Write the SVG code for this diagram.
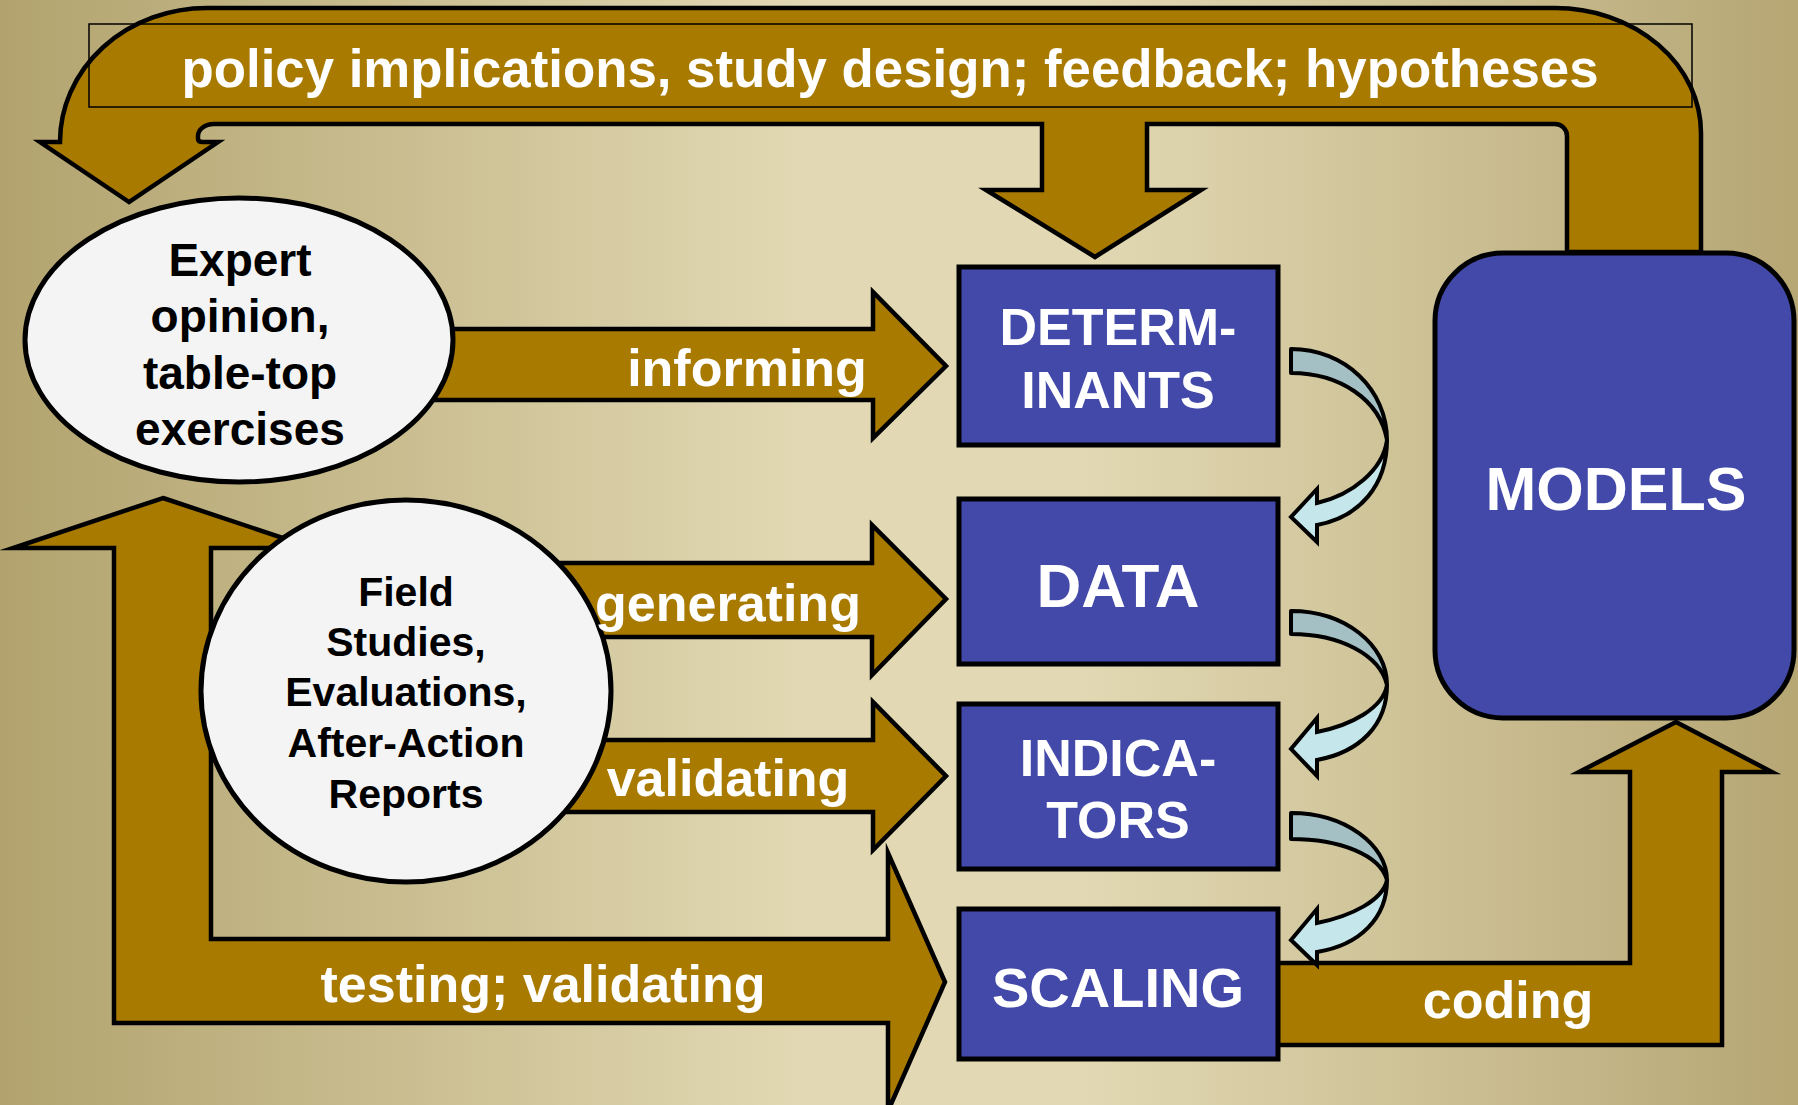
<svg xmlns="http://www.w3.org/2000/svg" width="1798" height="1105" viewBox="0 0 1798 1105">
<defs>
<linearGradient id="bg" x1="0" y1="0" x2="1" y2="0">
<stop offset="0" stop-color="#b2a36e"/>
<stop offset="0.45" stop-color="#e2d9b4"/>
<stop offset="0.6" stop-color="#e2d9b4"/>
<stop offset="1" stop-color="#b6a674"/>
</linearGradient>
</defs>
<style>
.gold{fill:#a97a00;stroke:#000;stroke-width:4.5;stroke-linejoin:miter;stroke-miterlimit:10}
.box{fill:#4349a9;stroke:#000;stroke-width:5}
.oval{fill:#f4f4f4;stroke:#000;stroke-width:5}
.back{fill:#a5c0c5;stroke:#000;stroke-width:4;stroke-linejoin:round}
.front{fill:#c5e7eb;stroke:#000;stroke-width:4;stroke-linejoin:miter}
text{font-family:"Liberation Sans",Arial,Helvetica,sans-serif;font-weight:bold;text-anchor:middle}
.lbl{fill:#fff;font-size:52px}
.btxt{fill:#fff}
.otxt{fill:#000}
</style>
<rect x="0" y="0" width="1798" height="1105" fill="url(#bg)"/>

<g id="connectors">
  <path id="feedback" class="gold" d="M129,202 L40,142 L60,142 A147,134 0 0 1 207,8 L1555,8 A146,125 0 0 1 1701,133 L1701,252 L1567,252 L1567,136 A12,12 0 0 0 1555,124 L1147,124 L1147,190 L1201,190 L1095,257 L986,190 L1042,190 L1042,124 L214,124 A16,12 0 0 0 198,136 L198,139 Q198,142 203,142 L218,142 Z"/>
  <rect x="89" y="24" width="1603" height="83" fill="none" stroke="#000" stroke-width="1.5"/>
  <path id="informing" class="gold" d="M380,329 L873,329 L873,292 L946,366 L873,438 L873,400 L380,400 Z"/>
  <path id="generating" class="gold" d="M500,563 L872,563 L872,525 L946,599 L872,675 L872,637 L500,637 Z"/>
  <path id="validating" class="gold" d="M500,740 L873,740 L873,702 L946,776 L873,850 L873,812 L500,812 Z"/>
  <path id="testing" class="gold" d="M163,498 L313,548 L211,548 L211,939 L888,939 L888,853 L945,982 L888,1111 L888,1023 L114,1023 L114,548 L13,548 Z"/>
  <path id="coding" class="gold" d="M1265,963 L1630,963 L1630,772 L1579,772 L1676,722 L1772,772 L1722,772 L1722,1045 L1265,1045 Z"/>
  <g id="curve1">
    <path class="back" d="M1291,349 C1345,349 1387,390 1387,440 C1380,400 1340,373 1291,373 Z"/>
    <path class="front" d="M1387,440 C1387,485 1360,517 1317,525 L1317,542 L1291,517 L1317,489 L1317,503 C1352,495 1383,470 1387,440 Z"/>
  </g>
  <g id="curve2">
    <path class="back" d="M1291,611 C1345,611 1387,645 1387,685 C1380,655 1340,634 1291,634 Z"/>
    <path class="front" d="M1387,685 C1387,725 1360,752 1317,760 L1317,776 L1291,749 L1317,718 L1317,732 C1352,725 1383,708 1387,685 Z"/>
  </g>
  <g id="curve3">
    <path class="back" d="M1291,813 C1345,813 1387,845 1387,880 C1380,855 1340,839 1291,839 Z"/>
    <path class="front" d="M1387,880 C1387,918 1360,945 1317,952 L1317,965 L1291,940 L1317,909 L1317,923 C1352,916 1383,900 1387,880 Z"/>
  </g>
</g>

<g id="expert">
  <ellipse class="oval" cx="239" cy="340" rx="214" ry="142"/>
  <text class="otxt" font-size="46" x="240" y="276">Expert</text>
  <text class="otxt" font-size="46" x="240" y="332">opinion,</text>
  <text class="otxt" font-size="46" x="240" y="389">table-top</text>
  <text class="otxt" font-size="46" x="240" y="445">exercises</text>
</g>
<g id="field">
  <ellipse class="oval" cx="406" cy="691" rx="205" ry="191"/>
  <text class="otxt" font-size="41" x="406" y="606">Field</text>
  <text class="otxt" font-size="41" x="406" y="656">Studies,</text>
  <text class="otxt" font-size="41" x="406" y="706">Evaluations,</text>
  <text class="otxt" font-size="41" x="406" y="757">After-Action</text>
  <text class="otxt" font-size="41" x="406" y="808">Reports</text>
</g>
<g id="determinants">
  <rect class="box" x="959" y="267" width="319" height="178"/>
  <text class="btxt" font-size="52" x="1118" y="345">DETERM-</text>
  <text class="btxt" font-size="52" x="1118" y="408">INANTS</text>
</g>
<g id="data">
  <rect class="box" x="959" y="499" width="319" height="165"/>
  <text class="btxt" font-size="62" x="1118" y="607">DATA</text>
</g>
<g id="indicators">
  <rect class="box" x="959" y="704" width="319" height="165"/>
  <text class="btxt" font-size="52" x="1118" y="776">INDICA-</text>
  <text class="btxt" font-size="52" x="1118" y="838">TORS</text>
</g>
<g id="scaling">
  <rect class="box" x="959" y="909" width="319" height="150"/>
  <text class="btxt" font-size="56" x="1118" y="1007">SCALING</text>
</g>
<g id="models">
  <rect class="box" x="1435" y="253" width="359" height="465" rx="68" ry="68"/>
  <text class="btxt" font-size="61" x="1616" y="510">MODELS</text>
</g>

<g id="labels">
  <text class="lbl" x="890" y="87" style="font-size:52.8px">policy implications, study design; feedback; hypotheses</text>
  <text class="lbl" x="747" y="386">informing</text>
  <text class="lbl" x="728" y="621">generating</text>
  <text class="lbl" x="728" y="796">validating</text>
  <text class="lbl" x="543" y="1002">testing; validating</text>
  <text class="lbl" x="1508" y="1018">coding</text>
</g>
</svg>
